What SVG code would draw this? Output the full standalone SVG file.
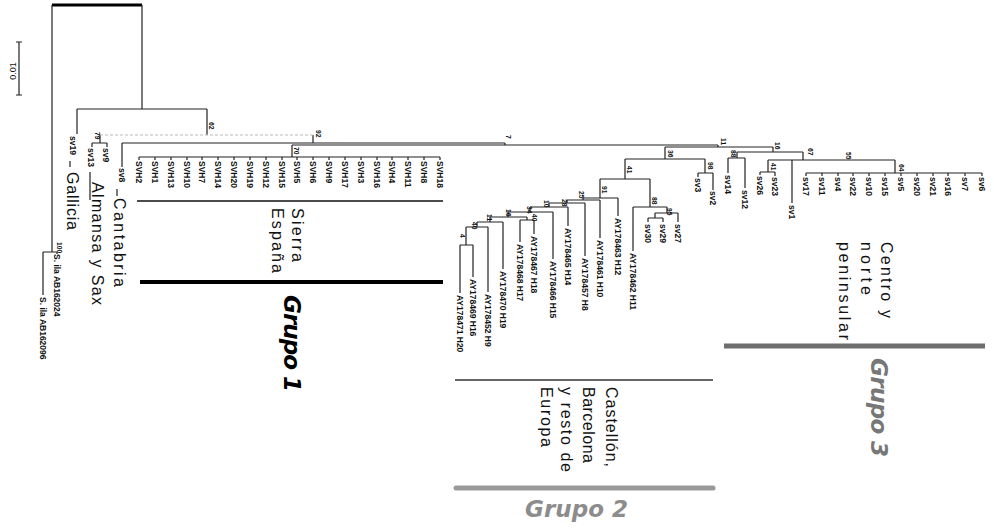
<svg xmlns="http://www.w3.org/2000/svg" width="994" height="528" viewBox="0 0 994 528">
<style>
.br{fill:none;stroke:#222;stroke-width:1.2}
.dl{fill:none;stroke:#bbb;stroke-width:1.2;stroke-dasharray:3 2}
.lf{font-family:"Liberation Sans",Arial,sans-serif;font-size:8.5px;font-weight:bold;fill:#111}
.bs{font-family:"Liberation Sans",Arial,sans-serif;font-size:6.8px;font-weight:bold;fill:#111}
.rg{font-family:"Liberation Sans",Arial,sans-serif;font-size:16px;fill:#111}
.gr{font-family:"DejaVu Sans",sans-serif;font-size:23px;font-weight:bold;font-style:italic}
</style>
<rect width="994" height="528" fill="#fff"/>
<g id="scale">
<path class="br" d="M19,42 V95 M16,42 H22 M16,95 H22"/>
<text class="lf" style="font-weight:normal;font-size:9px" text-anchor="middle" transform="translate(16,71) rotate(-90)">0.01</text>
</g>
<g id="connectors">
<path d="M52,5 H142" stroke="#000" stroke-width="3"/>
<path class="br" d="M52,5 V252 M43,252 H57 M43,252 V295 M57,252 V254
M142,5 V109 M77,109 H207 M77,109 V134 M207,109 V135
M100,135 V143 M92,143 H107 M92,143 V147 M107,143 V147
M313,135 V143 M122,143 H505 M122,143 V167 M505,143 V145 M292,145 H718
M292,145 V157 M139,157 H440"/>
<path class="dl" d="M100,135 H313"/>
<path class="br" d="M139,157 V160 M155,157 V160 M171,157 V160 M187,157 V160 M202,157 V160 M218,157 V160 M234,157 V160 M250,157 V160 M266,157 V160 M282,157 V160 M297,157 V160 M313,157 V160 M329,157 V160 M345,157 V160 M361,157 V160 M377,157 V160 M392,157 V160 M408,157 V160 M424,157 V160 M440,157 V160"/>
<path class="br" d="M718,145 V147 M665,147 H773
M665,147 V159 M625,159 H705 M705,159 V173 M698,173 H713 M698,173 V177 M713,173 V190
M625,159 V179 M600,179 H650
M650,179 V207 M633,207 H667 M633,207 V251 M667,207 V213 M655,213 H678 M678,213 V222 M655,213 V218 M648,218 H663 M648,218 V222 M663,218 V222
M600,179 V198 M583,198 H618 M618,198 V216
M583,198 V200 M567,200 H600 M600,200 V238
M567,200 V203 M549,203 H585 M585,203 V256
M549,203 V207 M530,207 H568 M568,207 V226
M530,207 V212 M508,212 H553 M553,212 V259
M508,212 V217 M490,217 H527 M527,217 V220 M520,220 H534 M520,220 V242 M534,220 V234
M490,217 V222 M477,222 H503 M503,222 V269
M477,222 V227 M466,227 H488 M488,227 V292
M466,227 V245 M460,245 H473 M460,245 V293 M473,245 V277"/>
<path class="br" d="M773,147 V152 M737,152 H803
M737,152 V158 M728,158 H745 M728,158 V173 M745,158 V188
M803,152 V160 M768,160 H895 M768,160 V172 M760,172 H775 M760,172 V175 M775,172 V176 M792,160 V203
M895,160 V173 M806,173 H982
M806,173 V176 M822,173 V176 M838,173 V176 M853,173 V176 M869,173 V176 M885,173 V176 M901,173 V176 M917,173 V176 M933,173 V176 M948,173 V176 M965,173 V176 M982,173 V176"/>
</g>
<g id="bootstrap" class="bs">
<text transform="translate(209,122) rotate(90)">62</text>
<text transform="translate(316,130) rotate(90)">92</text>
<text transform="translate(506,135) rotate(90)">7</text>
<text transform="translate(294,147) rotate(90)">70</text>
<text transform="translate(95,132) rotate(90)">79</text>
<text transform="translate(57,242) rotate(90)">100</text>
<text transform="translate(721,138) rotate(90)">11</text>
<text transform="translate(668,150) rotate(90)">36</text>
<text transform="translate(708,162) rotate(90)">98</text>
<text transform="translate(627,166) rotate(90)">41</text>
<text transform="translate(602,186) rotate(90)">91</text>
<text transform="translate(652,197) rotate(90)">88</text>
<text transform="translate(667,208) rotate(90)">95</text>
<text transform="translate(579,191) rotate(90)">25</text>
<text transform="translate(562,199) rotate(90)">28</text>
<text transform="translate(544,200) rotate(90)">10</text>
<text transform="translate(527,206) rotate(90)">34</text>
<text transform="translate(532,214) rotate(90)">40</text>
<text transform="translate(506,209) rotate(90)">16</text>
<text transform="translate(487,214) rotate(90)">11</text>
<text transform="translate(472,222) rotate(90)">40</text>
<text transform="translate(460,234) rotate(90)">4</text>
<text transform="translate(775,142) rotate(90)">16</text>
<text transform="translate(731,150) rotate(90)">88</text>
<text transform="translate(808,148) rotate(90)">67</text>
<text transform="translate(771,163) rotate(90)">41</text>
<text transform="translate(846,152) rotate(90)">55</text>
<text transform="translate(899,164) rotate(90)">64</text>
</g>
<g id="leaves-left" class="lf">
<g id="n-ab162024"><text transform="translate(54,254) rotate(90)">S. ila AB162024</text></g>
<g id="n-ab162096"><text transform="translate(40,297) rotate(90)">S. ila AB162096</text></g>
<g id="n-sv19"><text transform="translate(70,136) rotate(90)">sv19</text></g>
<g id="n-sv13"><text transform="translate(88,148) rotate(90)">sv13</text></g>
<g id="n-sv9"><text transform="translate(103,148) rotate(90)">sv9</text></g>
<g id="n-sv8"><text transform="translate(119,168) rotate(90)">sv8</text></g>
</g>
<g id="leaves-svh" class="lf">
<g id="n-svh2"><text transform="translate(136,161) rotate(90)">SVH2</text></g>
<g id="n-svh1"><text transform="translate(152,161) rotate(90)">SVH1</text></g>
<g id="n-svh13"><text transform="translate(168,161) rotate(90)">SVH13</text></g>
<g id="n-svh10"><text transform="translate(184,161) rotate(90)">SVH10</text></g>
<g id="n-svh7"><text transform="translate(199,161) rotate(90)">SVH7</text></g>
<g id="n-svh14"><text transform="translate(215,161) rotate(90)">SVH14</text></g>
<g id="n-svh20"><text transform="translate(231,161) rotate(90)">SVH20</text></g>
<g id="n-svh19"><text transform="translate(247,161) rotate(90)">SVH19</text></g>
<g id="n-svh12"><text transform="translate(263,161) rotate(90)">SVH12</text></g>
<g id="n-svh15"><text transform="translate(279,161) rotate(90)">SVH15</text></g>
<g id="n-svh5"><text transform="translate(294,161) rotate(90)">SVH5</text></g>
<g id="n-svh6"><text transform="translate(310,161) rotate(90)">SVH6</text></g>
<g id="n-svh9"><text transform="translate(326,161) rotate(90)">SVH9</text></g>
<g id="n-svh17"><text transform="translate(342,161) rotate(90)">SVH17</text></g>
<g id="n-svh3"><text transform="translate(358,161) rotate(90)">SVH3</text></g>
<g id="n-svh16"><text transform="translate(374,161) rotate(90)">SVH16</text></g>
<g id="n-svh4"><text transform="translate(389,161) rotate(90)">SVH4</text></g>
<g id="n-svh11"><text transform="translate(405,161) rotate(90)">SVH11</text></g>
<g id="n-svh8"><text transform="translate(421,161) rotate(90)">SVH8</text></g>
<g id="n-svh18"><text transform="translate(437,161) rotate(90)">SVH18</text></g>
</g>
<g id="leaves-g2" class="lf">
<g id="n-h20"><text transform="translate(457,295) rotate(90)">AY178471 H20</text></g>
<g id="n-h16"><text transform="translate(470,279) rotate(90)">AY178469 H16</text></g>
<g id="n-h9"><text transform="translate(485,294) rotate(90)">AY178452 H9</text></g>
<g id="n-h19"><text transform="translate(500,271) rotate(90)">AY178470 H19</text></g>
<g id="n-h17"><text transform="translate(517,244) rotate(90)">AY178468 H17</text></g>
<g id="n-h18"><text transform="translate(531,236) rotate(90)">AY178467 H18</text></g>
<g id="n-h15"><text transform="translate(550,261) rotate(90)">AY178466 H15</text></g>
<g id="n-h14"><text transform="translate(565,228) rotate(90)">AY178465 H14</text></g>
<g id="n-h8"><text transform="translate(582,258) rotate(90)">AY178457 H8</text></g>
<g id="n-h10"><text transform="translate(597,240) rotate(90)">AY178461 H10</text></g>
<g id="n-h12"><text transform="translate(615,218) rotate(90)">AY178463 H12</text></g>
<g id="n-h11"><text transform="translate(630,253) rotate(90)">AY178462 H11</text></g>
<g id="n-sv30"><text transform="translate(645,224) rotate(90)">sv30</text></g>
<g id="n-sv29"><text transform="translate(660,224) rotate(90)">sv29</text></g>
<g id="n-sv27"><text transform="translate(675,224) rotate(90)">sv27</text></g>
<g id="n-sv3"><text transform="translate(695,178) rotate(90)">sv3</text></g>
<g id="n-sv2"><text transform="translate(710,191) rotate(90)">sv2</text></g>
</g>
<g id="leaves-g3" class="lf">
<g id="n-sv14"><text transform="translate(725,175) rotate(90)">sv14</text></g>
<g id="n-sv12"><text transform="translate(742,190) rotate(90)">sv12</text></g>
<g id="n-sv26"><text transform="translate(757,176) rotate(90)">sv26</text></g>
<g id="n-sv23"><text transform="translate(772,177) rotate(90)">sv23</text></g>
<g id="n-sv1"><text transform="translate(789,205) rotate(90)">sv1</text></g>
<g id="n-sv17"><text transform="translate(803,177) rotate(90)">sv17</text></g>
<g id="n-sv11"><text transform="translate(819,177) rotate(90)">sv11</text></g>
<g id="n-sv4"><text transform="translate(835,177) rotate(90)">sv4</text></g>
<g id="n-sv22"><text transform="translate(850,177) rotate(90)">sv22</text></g>
<g id="n-sv10"><text transform="translate(866,177) rotate(90)">sv10</text></g>
<g id="n-sv15"><text transform="translate(882,177) rotate(90)">sv15</text></g>
<g id="n-sv5"><text transform="translate(898,177) rotate(90)">sv5</text></g>
<g id="n-sv20"><text transform="translate(914,177) rotate(90)">sv20</text></g>
<g id="n-sv21"><text transform="translate(930,177) rotate(90)">sv21</text></g>
<g id="n-sv16"><text transform="translate(945,177) rotate(90)">sv16</text></g>
<g id="n-sv7"><text transform="translate(962,177) rotate(90)">sv7</text></g>
<g id="n-sv6"><text transform="translate(979,177) rotate(90)">sv6</text></g>
</g>
<g id="regions">
<path class="br" d="M70,161 V167 M90,172 V200 M117,189 V196"/>
<g id="r-gallicia"><text class="rg" textLength="58" transform="translate(67,172) rotate(90)">Gallicia</text></g>
<g id="r-almansa"><text class="rg" textLength="123" transform="translate(92,182) rotate(90)">Almansa y Sax</text></g>
<g id="r-cantabria"><text class="rg" textLength="89" transform="translate(114,198) rotate(90)">Cantabria</text></g>
<g id="r-sierra"><text class="rg" textLength="54" transform="translate(292,208) rotate(90)">Sierra</text><text class="rg" textLength="65" transform="translate(272,208) rotate(90)">España</text></g>
<g id="r-castellon"><text class="rg" textLength="80" transform="translate(606,387) rotate(90)">Castellón,</text><text class="rg" textLength="76" transform="translate(583,387) rotate(90)">Barcelona</text><text class="rg" textLength="85" transform="translate(561,387) rotate(90)">y resto de</text><text class="rg" textLength="60" transform="translate(541,387) rotate(90)">Europa</text></g>
<g id="r-centro"><text class="rg" textLength="76" transform="translate(881,242) rotate(90)">Centro y</text><text class="rg" textLength="53" transform="translate(861,242) rotate(90)">norte</text><text class="rg" textLength="98" transform="translate(839,242) rotate(90)">peninsular</text></g>
</g>
<g id="grupo1">
<path d="M137,201 H443" stroke="#111" stroke-width="1.5"/>
<path d="M140,282 H443" stroke="#000" stroke-width="4"/>
<text class="gr" fill="#000" textLength="97" transform="translate(284,295) rotate(90)">Grupo 1</text>
</g>
<g id="grupo2">
<path d="M455,380 H713" stroke="#333" stroke-width="1.3"/>
<path d="M456,488 H713" stroke="#999" stroke-width="5" stroke-linecap="round"/>
<text class="gr" fill="#8c8c8c" x="525" y="517" textLength="103">Grupo 2</text>
</g>
<g id="grupo3">
<path d="M724,346 H985" stroke="#6e6e6e" stroke-width="5"/>
<text class="gr" fill="#777" textLength="99" transform="translate(871,358) rotate(90)">Grupo 3</text>
</g>
</svg>
